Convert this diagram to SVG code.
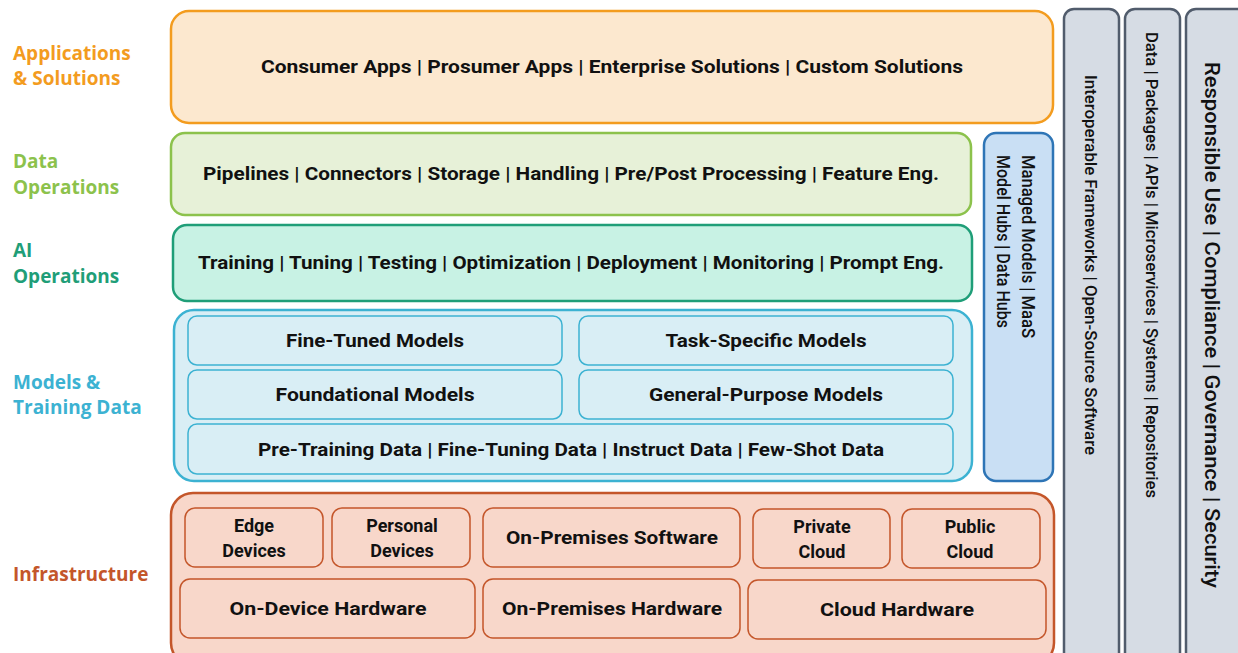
<svg xmlns="http://www.w3.org/2000/svg" width="1238" height="653" viewBox="0 0 1238 653">
<style>
.lbl{font-family:"Open Sans","Liberation Sans",sans-serif;font-weight:bold;font-size:19px}
.t{font-family:Roboto,"Liberation Sans",sans-serif;font-weight:bold;font-size:18px;fill:#111;text-anchor:middle}
.v{font-family:Roboto,"Liberation Sans",sans-serif;font-weight:500;font-size:17px;fill:#111}
.vr{font-family:Roboto,"Liberation Sans",sans-serif;font-weight:500;font-size:20px;fill:#111}
.vh{font-family:Roboto,"Liberation Sans",sans-serif;font-weight:500;font-size:18px;fill:#111}
.col{fill:#D6DCE4;stroke:#515C6C;stroke-width:2.5}
.app{fill:#FCE8CF;stroke:#F39C1F;stroke-width:2.5}
.dat{fill:#E7F1D8;stroke:#8CC24C;stroke-width:2.5}
.ai{fill:#C8F2E4;stroke:#1F9E78;stroke-width:2.5}
.mod{fill:#D9EEF5;stroke:#3CB2D2;stroke-width:2.5}
.modi{fill:#D9EEF5;stroke:#3CB2D2;stroke-width:1.5}
.hub{fill:#C9DFF4;stroke:#2E75B6;stroke-width:2.5}
.inf{fill:#F8D7CA;stroke:#C4562A;stroke-width:2.5}
.infi{fill:#F8D7CA;stroke:#C4562A;stroke-width:1.5}
</style>
<rect width="1238" height="653" fill="#fff"/>

<g id="left-labels">
<text class="lbl" fill="#F39C1F" x="13" y="60">Applications</text>
<text class="lbl" fill="#F39C1F" x="13" y="85">&amp; Solutions</text>
<text class="lbl" fill="#8CC24C" x="13" y="168">Data</text>
<text class="lbl" fill="#8CC24C" x="13" y="194">Operations</text>
<text class="lbl" fill="#1F9E78" x="13" y="257">AI</text>
<text class="lbl" fill="#1F9E78" x="13" y="283">Operations</text>
<text class="lbl" fill="#3CB2D2" x="13" y="389">Models &amp;</text>
<text class="lbl" fill="#3CB2D2" x="13" y="414">Training Data</text>
<text class="lbl" fill="#C4562A" x="13" y="581">Infrastructure</text>
</g>

<g id="applications">
<rect class="app" x="171" y="11" width="882" height="112" rx="18"/>
<text class="t" x="612" y="73" textLength="702" lengthAdjust="spacingAndGlyphs">Consumer Apps | Prosumer Apps | Enterprise Solutions | Custom Solutions</text>
</g>

<g id="data-operations">
<rect class="dat" x="171" y="133" width="800" height="82" rx="14"/>
<text class="t" x="571" y="180" textLength="736" lengthAdjust="spacingAndGlyphs">Pipelines | Connectors | Storage | Handling | Pre/Post Processing | Feature Eng.</text>
</g>

<g id="ai-operations">
<rect class="ai" x="173" y="225" width="799" height="76" rx="14"/>
<text class="t" x="571" y="269" textLength="746" lengthAdjust="spacingAndGlyphs">Training | Tuning | Testing | Optimization | Deployment | Monitoring | Prompt Eng.</text>
</g>

<g id="models-training-data">
<rect class="mod" x="174" y="310" width="798" height="171" rx="20"/>
<rect class="modi" x="188" y="316" width="374" height="49" rx="9"/>
<text class="t" x="375" y="347" textLength="178" lengthAdjust="spacingAndGlyphs">Fine-Tuned Models</text>
<rect class="modi" x="579" y="316" width="374" height="49" rx="9"/>
<text class="t" x="766" y="347" textLength="201" lengthAdjust="spacingAndGlyphs">Task-Specific Models</text>
<rect class="modi" x="188" y="370" width="374" height="49" rx="9"/>
<text class="t" x="375" y="401" textLength="199" lengthAdjust="spacingAndGlyphs">Foundational Models</text>
<rect class="modi" x="579" y="370" width="374" height="49" rx="9"/>
<text class="t" x="766" y="401" textLength="234" lengthAdjust="spacingAndGlyphs">General-Purpose Models</text>
<rect class="modi" x="188" y="424" width="765" height="50" rx="9"/>
<text class="t" x="571" y="456" textLength="626" lengthAdjust="spacingAndGlyphs">Pre-Training Data | Fine-Tuning Data | Instruct Data | Few-Shot Data</text>
</g>

<g id="model-hubs">
<rect class="hub" x="984" y="133" width="69" height="348" rx="12"/>
<text class="vh" transform="translate(1022,155) rotate(90)" textLength="183" lengthAdjust="spacingAndGlyphs">Managed Models | MaaS</text>
<text class="vh" transform="translate(997,155) rotate(90)" textLength="173" lengthAdjust="spacingAndGlyphs">Model Hubs | Data Hubs</text>
</g>

<g id="infrastructure">
<rect class="inf" x="171" y="493" width="883" height="172" rx="22"/>
<rect class="infi" x="185" y="508" width="138" height="59" rx="10"/>
<text class="t" x="254" y="532">Edge</text>
<text class="t" x="254" y="557">Devices</text>
<rect class="infi" x="332" y="508" width="138" height="59" rx="10"/>
<text class="t" x="402" y="532">Personal</text>
<text class="t" x="402" y="557">Devices</text>
<rect class="infi" x="483" y="508" width="257" height="59" rx="10"/>
<text class="t" x="612" y="544" textLength="212" lengthAdjust="spacingAndGlyphs">On-Premises Software</text>
<rect class="infi" x="753" y="509" width="137" height="59" rx="10"/>
<text class="t" x="822" y="533">Private</text>
<text class="t" x="822" y="558">Cloud</text>
<rect class="infi" x="902" y="509" width="138" height="59" rx="10"/>
<text class="t" x="970" y="533">Public</text>
<text class="t" x="970" y="558">Cloud</text>
<rect class="infi" x="180" y="579" width="295" height="59" rx="10"/>
<text class="t" x="328" y="615" textLength="197" lengthAdjust="spacingAndGlyphs">On-Device Hardware</text>
<rect class="infi" x="483" y="579" width="257" height="59" rx="10"/>
<text class="t" x="612" y="615" textLength="220" lengthAdjust="spacingAndGlyphs">On-Premises Hardware</text>
<rect class="infi" x="748" y="580" width="298" height="59" rx="10"/>
<text class="t" x="897" y="616" textLength="154" lengthAdjust="spacingAndGlyphs">Cloud Hardware</text>
</g>

<g id="frameworks">
<rect class="col" x="1064" y="9" width="55" height="660" rx="10"/>
<text class="v" transform="translate(1085,75) rotate(90)" textLength="380" lengthAdjust="spacingAndGlyphs">Interoperable Frameworks | Open-Source Software</text>
</g>
<g id="data-packages">
<rect class="col" x="1125" y="9" width="55" height="660" rx="10"/>
<text class="v" transform="translate(1146,32) rotate(90)" textLength="466" lengthAdjust="spacingAndGlyphs">Data | Packages | APIs | Microservices | Systems | Repositories</text>
</g>
<g id="responsible-use">
<rect class="col" x="1186" y="9" width="70" height="660" rx="10"/>
<text class="vr" transform="translate(1205,62) rotate(90)" textLength="526" lengthAdjust="spacingAndGlyphs">Responsible Use | Compliance | Governance | Security</text>
</g>
<g id="connectors"></g>
</svg>
